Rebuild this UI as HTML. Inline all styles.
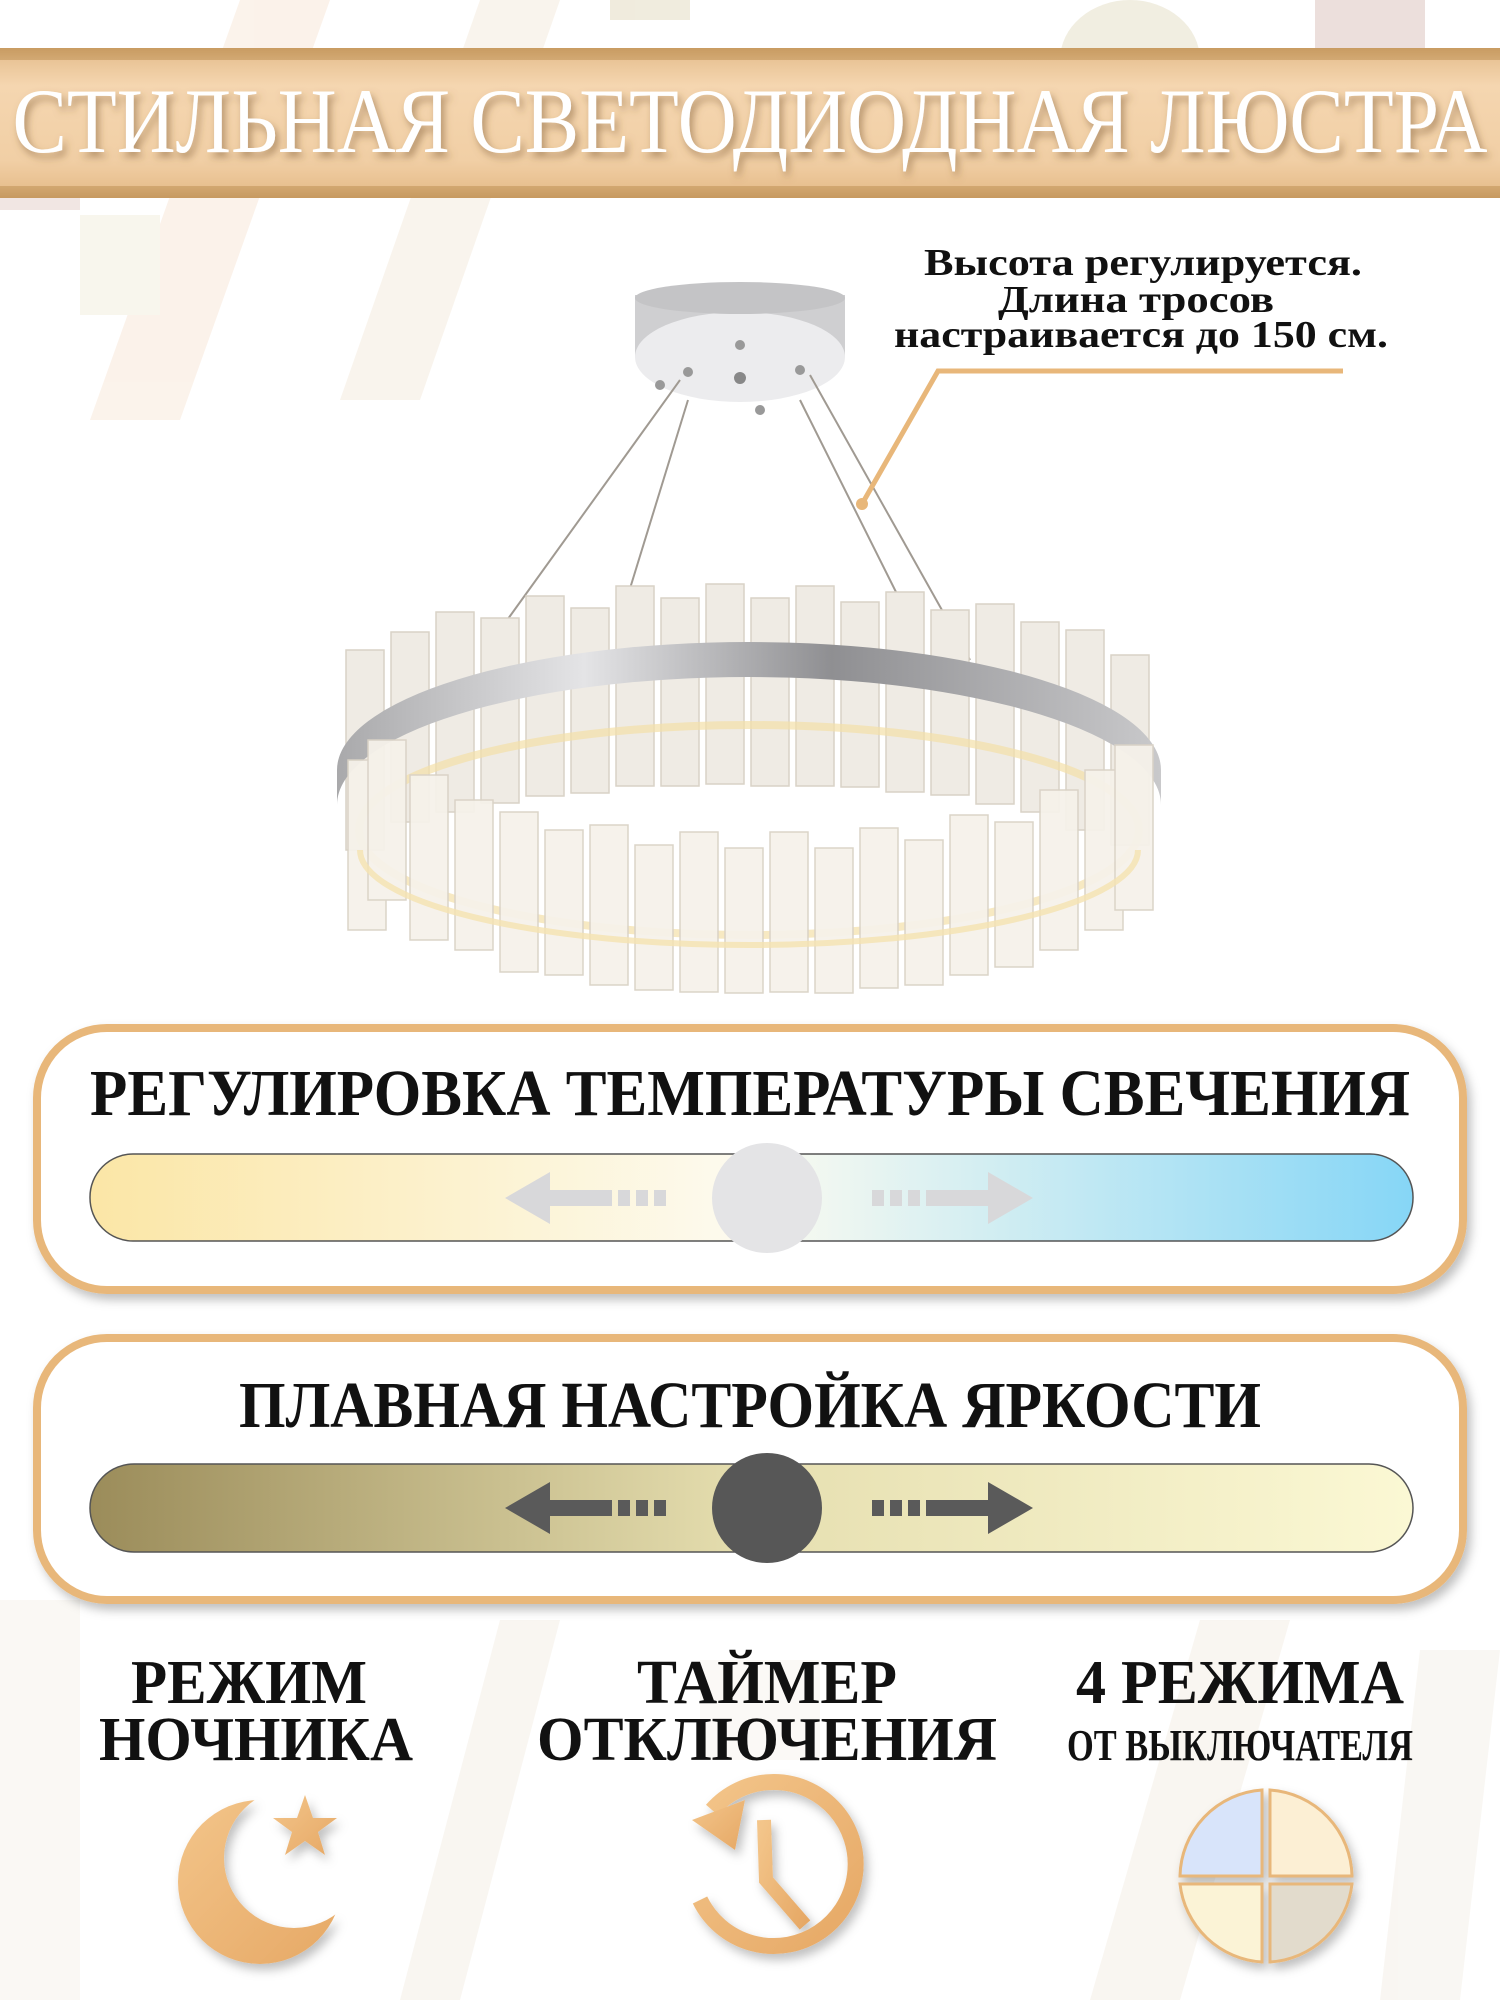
<!DOCTYPE html>
<html><head><meta charset="utf-8"><style>
html,body{margin:0;padding:0;background:#fff;}
svg{display:block}
</style></head><body>
<svg width="1500" height="2000" viewBox="0 0 1500 2000" xmlns="http://www.w3.org/2000/svg">
<defs>
<linearGradient id="ban" x1="0" y1="0" x2="0" y2="1">
<stop offset="0" stop-color="#c89a60"/><stop offset="0.08" stop-color="#e9c496"/><stop offset="0.25" stop-color="#f5d6b0"/><stop offset="0.75" stop-color="#f1cfa5"/><stop offset="0.92" stop-color="#e8c090"/><stop offset="1" stop-color="#c0925a"/>
</linearGradient>
<linearGradient id="temp" x1="0" x2="1">
<stop offset="0" stop-color="#fbe6a6"/><stop offset="0.5" stop-color="#fdfbf0"/><stop offset="1" stop-color="#86d6f6"/>
</linearGradient>
<linearGradient id="bri" x1="0" x2="1">
<stop offset="0" stop-color="#9b8c5a"/><stop offset="0.5" stop-color="#e6dfb0"/><stop offset="1" stop-color="#fbf8d4"/>
</linearGradient>
<linearGradient id="band" x1="0" x2="1">
<stop offset="0" stop-color="#a9a9ab"/><stop offset="0.3" stop-color="#e4e4e6"/><stop offset="0.6" stop-color="#8f8f92"/><stop offset="1" stop-color="#c9c9cb"/>
</linearGradient>
<linearGradient id="ic" x1="0" x2="1" y1="0" y2="1">
<stop offset="0" stop-color="#f3c58a"/><stop offset="1" stop-color="#e6a865"/>
</linearGradient>
<mask id="moon"><rect x="150" y="1780" width="220" height="200" fill="#fff"/><circle cx="294" cy="1858" r="70" fill="#000"/></mask>
<filter id="sh" x="-10%" y="-20%" width="120%" height="150%"><feDropShadow dx="3" dy="5" stdDeviation="4" flood-color="#7a5530" flood-opacity="0.55"/></filter>
<filter id="sh2" x="-20%" y="-20%" width="150%" height="150%"><feDropShadow dx="4" dy="6" stdDeviation="5" flood-color="#000" flood-opacity="0.25"/></filter>
</defs>
<g opacity="0.35">
<polygon points="240,0 330,0 180,420 90,420" fill="#f4dcc6"/>
<polygon points="480,0 560,0 420,400 340,400" fill="#efe0cc"/>
<rect x="610" y="0" width="80" height="20" fill="#d5c8a0"/>
<ellipse cx="1130" cy="60" rx="70" ry="60" fill="#d8cfa8"/>
<rect x="1315" y="0" width="110" height="55" fill="#c9a49a"/>
<rect x="80" y="215" width="80" height="100" fill="#ece6cc"/>
<rect x="0" y="170" width="80" height="40" fill="#d8b8b0"/>
<polygon points="0,1600 80,1600 80,2000 0,2000" fill="#f0ebe0"/>
<polygon points="500,1620 560,1620 460,2000 400,2000" fill="#ede4d6"/>
<polygon points="1200,1620 1290,1620 1180,2000 1090,2000" fill="#efe6d8"/>
<rect x="700" y="1660" width="120" height="100" fill="#f3ede4"/>
<polygon points="1420,1650 1500,1650 1460,2000 1380,2000" fill="#efe8dc"/>
</g>
<rect x="0" y="48" width="1500" height="150" fill="url(#ban)"/>
<rect x="0" y="48" width="1500" height="12" fill="#c99c64" opacity="0.7"/>
<rect x="0" y="186" width="1500" height="12" fill="#c99c64" opacity="0.7"/>
<text x="750" y="152" text-anchor="middle" font-family="Liberation Serif" font-size="92" fill="#fff" textLength="1475" lengthAdjust="spacingAndGlyphs" filter="url(#sh)">СТИЛЬНАЯ СВЕТОДИОДНАЯ ЛЮСТРА</text>
<g font-family="Liberation Serif" font-weight="bold" font-size="38" fill="#111" text-anchor="middle">
<text x="1143" y="275" textLength="438" lengthAdjust="spacingAndGlyphs">Высота регулируется.</text>
<text x="1136" y="312" textLength="276" lengthAdjust="spacingAndGlyphs">Длина тросов</text>
<text x="1141" y="347" textLength="494" lengthAdjust="spacingAndGlyphs">настраивается до 150 см.</text>
</g>
<g>
<rect x="635" y="295" width="210" height="62" fill="#cfcfd1"/>
<ellipse cx="740" cy="357" rx="105" ry="45" fill="#ececee"/>
<ellipse cx="740" cy="298" rx="105" ry="16" fill="#c4c4c6"/>
<circle cx="740" cy="378" r="6" fill="#888"/><circle cx="688" cy="372" r="5" fill="#999"/><circle cx="800" cy="370" r="5" fill="#999"/><circle cx="740" cy="345" r="5" fill="#999"/><circle cx="760" cy="410" r="5" fill="#999"/><circle cx="660" cy="385" r="5" fill="#999"/>
<g stroke="#a09a92" stroke-width="2">
<line x1="680" y1="380" x2="500" y2="630"/><line x1="688" y1="400" x2="628" y2="595"/>
<line x1="810" y1="375" x2="970" y2="660"/><line x1="800" y1="400" x2="905" y2="610"/>
</g>
</g>
<polyline points="1343,371 938,371 862,504" fill="none" stroke="#e8b77a" stroke-width="5"/>
<circle cx="862" cy="504" r="6" fill="#e8b77a"/>
<g fill="#efebe4" stroke="#d9d2c6" stroke-width="1.5">
<rect x="346" y="650" width="38" height="200"/>
<rect x="391" y="632" width="38" height="190"/>
<rect x="436" y="612" width="38" height="200"/>
<rect x="481" y="618" width="38" height="185"/>
<rect x="526" y="596" width="38" height="200"/>
<rect x="571" y="608" width="38" height="185"/>
<rect x="616" y="586" width="38" height="200"/>
<rect x="661" y="598" width="38" height="188"/>
<rect x="706" y="584" width="38" height="200"/>
<rect x="751" y="598" width="38" height="188"/>
<rect x="796" y="586" width="38" height="200"/>
<rect x="841" y="602" width="38" height="185"/>
<rect x="886" y="592" width="38" height="200"/>
<rect x="931" y="610" width="38" height="185"/>
<rect x="976" y="604" width="38" height="200"/>
<rect x="1021" y="622" width="38" height="190"/>
<rect x="1066" y="630" width="38" height="200"/>
<rect x="1111" y="655" width="38" height="190"/>
</g>
<path d="M337,770 A412,128 0 0 1 1161,770 L1161,805 A412,128 0 0 0 337,805 Z" fill="url(#band)"/>
<ellipse cx="749" cy="830" rx="390" ry="105" fill="none" stroke="#f3dfa8" stroke-width="8" opacity="0.7"/>
<g fill="#f6f2ea" stroke="#d9d2c6" stroke-width="1.5" opacity="0.95">
<rect x="348" y="760" width="38" height="170"/>
<rect x="368" y="740" width="38" height="160"/>
<rect x="410" y="775" width="38" height="165"/>
<rect x="455" y="800" width="38" height="150"/>
<rect x="500" y="812" width="38" height="160"/>
<rect x="545" y="830" width="38" height="145"/>
<rect x="590" y="825" width="38" height="160"/>
<rect x="635" y="845" width="38" height="145"/>
<rect x="680" y="832" width="38" height="160"/>
<rect x="725" y="848" width="38" height="145"/>
<rect x="770" y="832" width="38" height="160"/>
<rect x="815" y="848" width="38" height="145"/>
<rect x="860" y="828" width="38" height="160"/>
<rect x="905" y="840" width="38" height="145"/>
<rect x="950" y="815" width="38" height="160"/>
<rect x="995" y="822" width="38" height="145"/>
<rect x="1040" y="790" width="38" height="160"/>
<rect x="1085" y="770" width="38" height="160"/>
<rect x="1115" y="745" width="38" height="165"/>
</g>
<path d="M360,850 A389,95 0 0 0 1138,850" fill="none" stroke="#f5e2b0" stroke-width="6" opacity="0.8"/>
<rect x="37" y="1028" width="1426" height="262" rx="70" fill="#fff" stroke="#e8b77a" stroke-width="8" filter="url(#sh2)"/>
<text x="750" y="1115" text-anchor="middle" font-family="Liberation Serif" font-weight="bold" font-size="66" fill="#111" textLength="1320" lengthAdjust="spacingAndGlyphs">РЕГУЛИРОВКА ТЕМПЕРАТУРЫ СВЕЧЕНИЯ</text>
<rect x="90" y="1154" width="1323" height="87" rx="43" fill="url(#temp)" stroke="#555" stroke-width="1.5"/>
<circle cx="767" cy="1198" r="55" fill="#e4e4e6"/>
<g fill="#d8d8da">
<polygon points="505,1198 550,1172 550,1190 612,1190 612,1206 550,1206 550,1224"/>
<rect x="618" y="1190" width="12" height="16"/><rect x="636" y="1190" width="12" height="16"/><rect x="654" y="1190" width="12" height="16"/>
<polygon points="1033,1198 988,1172 988,1190 926,1190 926,1206 988,1206 988,1224"/>
<rect x="908" y="1190" width="12" height="16"/><rect x="890" y="1190" width="12" height="16"/><rect x="872" y="1190" width="12" height="16"/>
</g>
<rect x="37" y="1338" width="1426" height="262" rx="70" fill="#fff" stroke="#e8b77a" stroke-width="8" filter="url(#sh2)"/>
<text x="750" y="1427" text-anchor="middle" font-family="Liberation Serif" font-weight="bold" font-size="66" fill="#111" textLength="1022" lengthAdjust="spacingAndGlyphs">ПЛАВНАЯ НАСТРОЙКА ЯРКОСТИ</text>
<rect x="90" y="1464" width="1323" height="88" rx="44" fill="url(#bri)" stroke="#555" stroke-width="1.5"/>
<circle cx="767" cy="1508" r="55" fill="#575757"/>
<g fill="#5a5a5a">
<polygon points="505,1508 550,1482 550,1500 612,1500 612,1516 550,1516 550,1534"/>
<rect x="618" y="1500" width="12" height="16"/><rect x="636" y="1500" width="12" height="16"/><rect x="654" y="1500" width="12" height="16"/>
<polygon points="1033,1508 988,1482 988,1500 926,1500 926,1516 988,1516 988,1534"/>
<rect x="908" y="1500" width="12" height="16"/><rect x="890" y="1500" width="12" height="16"/><rect x="872" y="1500" width="12" height="16"/>
</g>
<g font-family="Liberation Serif" font-weight="bold" fill="#111" text-anchor="middle">
<text x="249" y="1703" font-size="62" textLength="236" lengthAdjust="spacingAndGlyphs">РЕЖИМ</text>
<text x="256" y="1760" font-size="62" textLength="314" lengthAdjust="spacingAndGlyphs">НОЧНИКА</text>
<text x="767" y="1703" font-size="62" textLength="260" lengthAdjust="spacingAndGlyphs">ТАЙМЕР</text>
<text x="767" y="1760" font-size="62" textLength="460" lengthAdjust="spacingAndGlyphs">ОТКЛЮЧЕНИЯ</text>
<text x="1240" y="1703" font-size="62" textLength="328" lengthAdjust="spacingAndGlyphs">4 РЕЖИМА</text>
<text x="1240" y="1760" font-size="44" textLength="346" lengthAdjust="spacingAndGlyphs">ОТ ВЫКЛЮЧАТЕЛЯ</text>
</g>
<g filter="url(#sh2)">
<circle cx="260" cy="1882" r="82" fill="url(#ic)" mask="url(#moon)"/>
<polygon points="305,1795 313,1818 337,1818 318,1832 325,1855 305,1841 285,1855 292,1832 273,1818 297,1818" fill="url(#ic)"/>
<path d="M712,1810 A82,82 0 1 1 700,1900" fill="none" stroke="url(#ic)" stroke-width="16"/>
<polygon points="692,1820 745,1800 735,1850" fill="url(#ic)"/>
<polyline points="764,1820 766,1880 805,1925" fill="none" stroke="url(#ic)" stroke-width="14"/>
<g stroke="#e8b77a" stroke-width="3">
<path d="M1262,1876 L1180,1876 A88,88 0 0 1 1262,1790 Z" fill="#d8e4fa"/>
<path d="M1270,1876 L1270,1790 A88,88 0 0 1 1352,1876 Z" fill="#fcefd4"/>
<path d="M1262,1884 L1262,1962 A88,88 0 0 1 1180,1884 Z" fill="#fbf3d6"/>
<path d="M1270,1884 L1352,1884 A88,88 0 0 1 1270,1962 Z" fill="#e2dbcc"/>
</g>
</g>
</svg>
</body></html>
